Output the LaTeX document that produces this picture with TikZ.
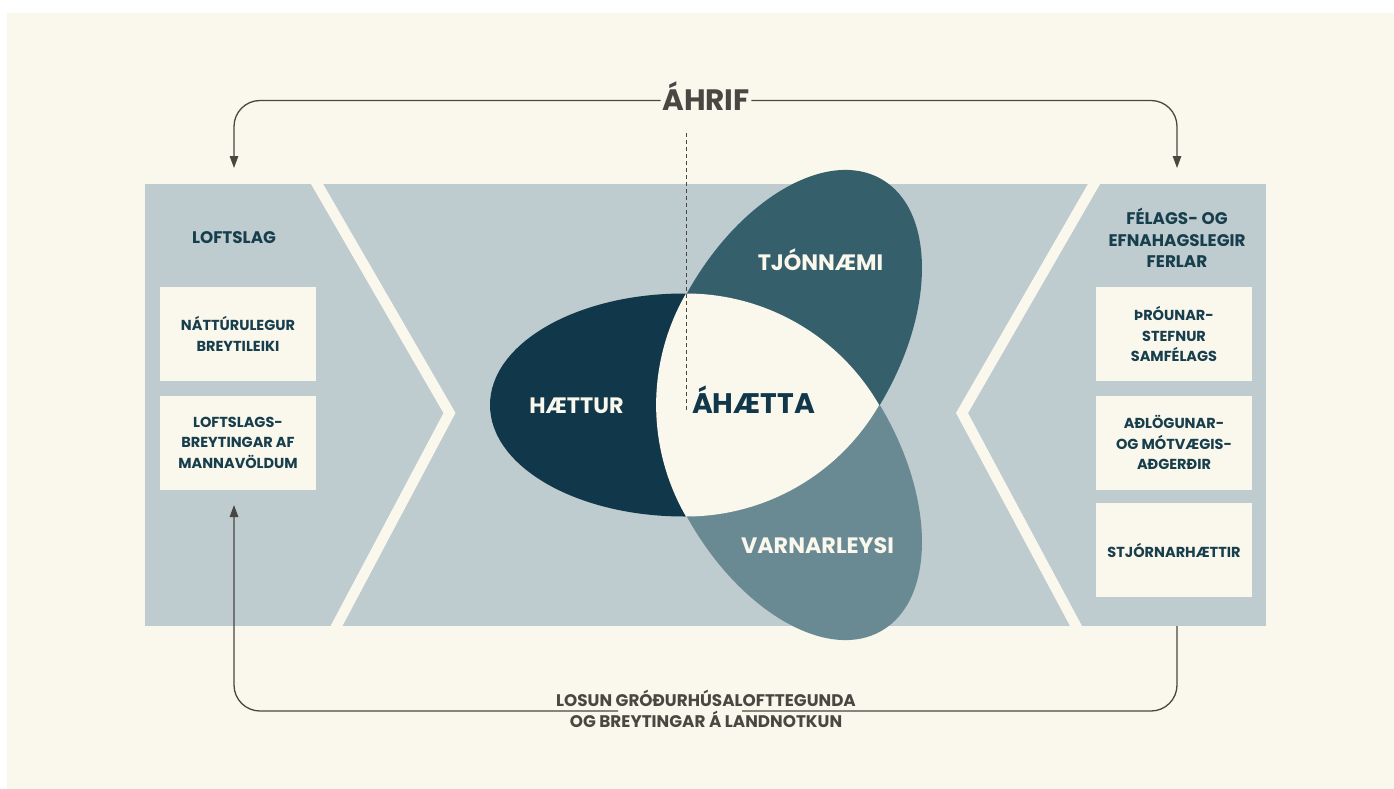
\documentclass[tikz,border=0pt]{standalone}
\usepackage{fontspec}
\setmainfont{Poppins}
\usetikzlibrary{arrows.meta}
\definecolor{bgcream}{HTML}{FAF7EC}
\definecolor{cpanel}{HTML}{BECBCF}
\definecolor{cnavy}{HTML}{11384A}
\definecolor{cteal}{HTML}{365F6C}
\definecolor{cslate}{HTML}{6A8A93}
\definecolor{clabel}{HTML}{173E4C}
\definecolor{cline}{HTML}{4A4642}
\tikzset{
  conn/.style={draw=cline, line width=1.3pt, rounded corners=26pt},
  tipend/.style={-{Triangle[length=12pt,width=8.5pt]}},
  stripe/.style={draw=bgcream, line width=10.5pt, line join=miter},
  boxnode/.style={fill=bgcream, minimum width=156pt, minimum height=94pt, inner sep=0pt,
    align=center, text=clabel, font=\bfseries\fontsize{14.5}{20.5}\selectfont},
  headnode/.style={inner sep=0pt, align=center, text=clabel,
    font=\bfseries\fontsize{16.8}{21.5}\selectfont},
  petaltext/.style={inner sep=0pt, anchor=base, text=bgcream,
    font=\bfseries\fontsize{22.3}{26}\selectfont},
  graytext/.style={inner sep=0pt, align=center, text=cline,
    font=\bfseries\fontsize{16.8}{21}\selectfont}
}
\begin{document}
\begin{tikzpicture}[x=1pt,y=-1pt]
\useasboundingbox (0,0) rectangle (1394,789);
\fill[white] (0,0) rectangle (1394,789);
\fill[bgcream] (7,13) rectangle (1394,789);
% panel band with chevron stripes
\begin{scope}
  \clip (145,184) rectangle (1266,626);
  \fill[cpanel] (145,184) rectangle (1266,626);
  \draw[stripe] (303.8,161.1) -- (449.5,413) -- (325.2,647.3);
  \draw[stripe] (1107.2,161.1) -- (962,413) -- (1087.4,647.3);
\end{scope}
% petals
\fill[cnavy] (684,405) ellipse [x radius=194, y radius=111.5];
\begin{scope}
  \clip (686,150) rectangle (1000,405);
  \fill[cteal, shift={(786.5,343.7)}, rotate=60] (0,0) ellipse [x radius=190, y radius=111.5];
\end{scope}
\begin{scope}
  \clip (686,405) rectangle (1000,660);
  \fill[cslate, shift={(786.5,466.3)}, rotate=-60] (0,0) ellipse [x radius=190, y radius=111.5];
\end{scope}
% centre: Reuleaux triangle
\coordinate (ca) at (686,293.5);
\fill[bgcream] (ca) arc[start angle=90, end angle=30, radius=223pt]
  arc[start angle=-30, end angle=-90, radius=223pt]
  arc[start angle=210, end angle=150, radius=223pt] -- cycle;
% dashed guide
\coordinate (dtop) at (686,133);
\coordinate (dbot) at (686,412);
\draw[cline, line width=1pt, dash pattern=on 4pt off 3pt] (dtop) -- (dbot);
% petal labels
\node[petaltext] (haz) at (576.5,413) {HÆTTUR};
\node[petaltext] (exp) at (820.5,270) {TJÓNNÆMI};
\node[petaltext] (vul) at (817.5,553) {VARNARLEYSI};
\node[petaltext, text=cnavy, font=\bfseries\fontsize{28.3}{32}\selectfont] (risk) at (753.5,413) {ÁHÆTTA};
% left panel
\node[headnode, anchor=base] (climate) at (234,243) {LOFTSLAG};
\node[boxnode] (nat) at (238,334) {NÁTTÚRULEGUR\\BREYTILEIKI};
\node[boxnode] (anth) at (238,442.5) {LOFTSLAGS-\\BREYTINGAR AF\\MANNAVÖLDUM};
% right panel
\node[headnode] (socio) at (1177,238) {FÉLAGS- OG\\EFNAHAGSLEGIR\\FERLAR};
\node[boxnode] (path) at (1174,334) {ÞRÓUNAR-\\STEFNUR\\SAMFÉLAGS};
\node[boxnode] (adapt) at (1174,442.5) {AÐLÖGUNAR-\\OG MÓTVÆGIS-\\AÐGERÐIR};
\node[boxnode] (gov) at (1174,550) {STJÓRNARHÆTTIR};
% top connector
\node[inner xsep=1.5pt, inner ysep=0pt, anchor=base, text height=21pt, text depth=0pt,
  text=cline, font=\bfseries\fontsize{29.5}{32}\selectfont] (ahrif) at (706,111) {ÁHRIF};
\coordinate (topL) at (234,168);
\coordinate (topR) at (1177,168);
\draw[conn, tipend] (ahrif.west) -| (topL);
\draw[conn, tipend] (ahrif.east) -| (topR);
% bottom connector
\coordinate (botR) at (1177,626);
\coordinate (gapR) at (742,711);
\coordinate (gapL) at (618,711);
\coordinate (botL) at (234,505);
\draw[conn] (botR) |- (gapR);
\draw[conn, tipend] (gapL) -| (botL);
\node[graytext] (emis) at (706,709) {LOSUN GRÓÐURHÚSALOFTTEGUNDA\\OG BREYTINGAR Á LANDNOTKUN};
\end{tikzpicture}
\end{document}
